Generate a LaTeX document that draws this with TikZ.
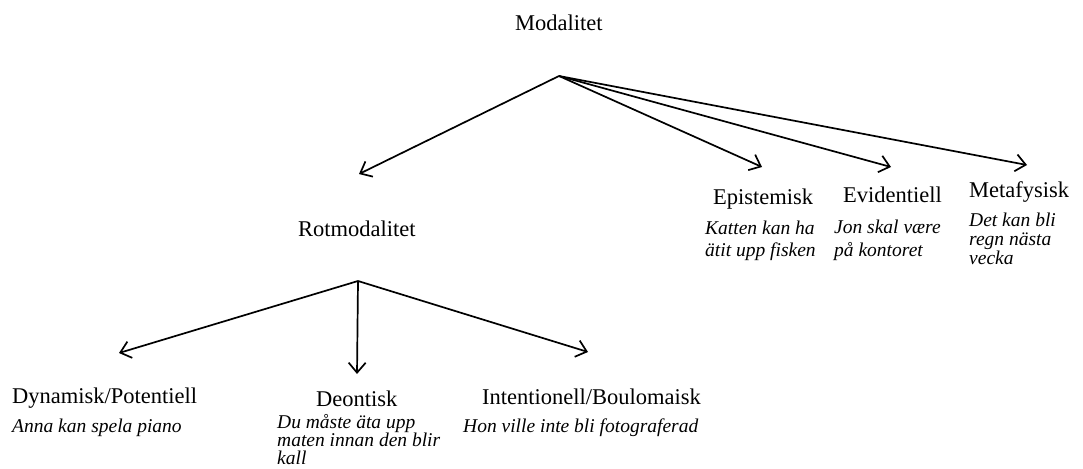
\documentclass[tikz,border=0pt]{standalone}
\usepackage{fontspec}
\setmainfont{Liberation Serif}
\usetikzlibrary{arrows.meta}
\tikzset{
  cat/.style={inner sep=0pt, anchor=base west, font=\fontsize{22.5}{27}\selectfont},
  % multi-line nodes: base anchor sits on the last line's baseline
  ex/.style={inner sep=0pt, anchor=base west, align=left, font=\fontsize{19.5}{#1}\selectfont\itshape},
  ex/.default=22,
  link/.style={line width=1.7pt, -{Straight Barb[length=10pt,width=17pt,line width=1.7pt]}}
}
\begin{document}
\begin{tikzpicture}[x=1pt,y=-1pt]
\useasboundingbox (0,0) rectangle (1083,468);
% top level
\node[cat] (mod) at (515,31) {Modalitet};
\coordinate (o1) at (559,76);
\node[cat] (rot) at (298,236) {Rotmodalitet};
\node[cat] (epi) at (713,204) {Epistemisk};
\node[ex] (epiex) at (705,256) {Katten kan ha\\ätit upp fisken};
\node[cat] (evi) at (843,202) {Evidentiell};
\node[ex=23] (eviex) at (834,256) {Jon skal være\\på kontoret};
\node[cat] (met) at (969,197) {Metafysisk};
\node[ex=19] (metex) at (969,264) {Det kan bli\\regn nästa\\vecka};
\coordinate (tR) at (359,174);
\coordinate (tE) at (762,167);
\coordinate (tV) at (891,167);
\coordinate (tM) at (1027,165);
\draw[link] (o1) -- (tR);
\draw[link] (o1) -- (tE);
\draw[link] (o1) -- (tV);
\draw[link] (o1) -- (tM);
% second level
\coordinate (o2) at (358,281);
\node[cat] (dyn) at (12,403) {Dynamisk/Potentiell};
\node[ex] (dynex) at (12,432) {Anna kan spela piano};
\node[cat] (deo) at (316,406) {Deontisk};
\node[ex=18] (deoex) at (277,464) {Du måste äta upp\\maten innan den blir\\kall};
\node[cat] (int) at (482,404) {Intentionell/Boulomaisk};
\node[ex] (intex) at (463,432) {Hon ville inte bli fotograferad};
\coordinate (tD) at (119,353);
\coordinate (tO) at (357,374);
\coordinate (tI) at (588,352);
\draw[link] (o2) -- (tD);
\draw[link] (o2) -- (tO);
\draw[link] (o2) -- (tI);
\end{tikzpicture}
\end{document}
